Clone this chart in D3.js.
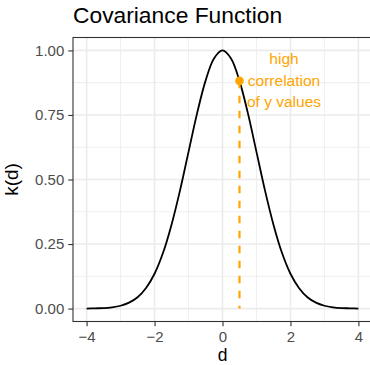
<!DOCTYPE html>
<html><head><meta charset="utf-8">
<script src="https://cdn.jsdelivr.net/npm/d3@7"></script>
<style>body{margin:0;background:#fff}svg{display:block;font-family:"Liberation Sans",Arial,Helvetica,sans-serif}</style>
</head><body><div id="chart"></div>
<script>
const dValues = [-4,-3.75,-3.5,-3.25,-3,-2.75,-2.5,-2.25,-2,-1.75,-1.5,-1.25,-1,-0.75,-0.5,-0.25,0,0.25,0.5,0.75,1,1.25,1.5,1.75,2,2.25,2.5,2.75,3,3.25,3.5,3.75,4];
const kValues = [0.000,0.001,0.002,0.005,0.011,0.023,0.044,0.080,0.135,0.216,0.325,0.458,0.607,0.755,0.882,0.969,1.000,0.969,0.882,0.755,0.607,0.458,0.325,0.216,0.135,0.080,0.044,0.023,0.011,0.005,0.002,0.001,0.000];
const xTicks = [-4,-2,0,2,4];
const xMinor = [-3,-1,1,3];
const yTicks = [0,0.25,0.5,0.75,1];
const yMinor = [0.125,0.375,0.625,0.875];
const markerD = [0.5];
const markerK = [0.882];
const annotationLines = ["high","correlation","of y values"];
const titleText = "Covariance Function";
const xTitle = "d", yTitle = "k(d)";

const W = 370, H = 365;
const P = {left:73, right:372, top:37.5, bottom:321.5};
const svg = d3.select("#chart").append("svg").attr("width",W).attr("height",H);
const x = d3.scaleLinear().domain([-4.4,4.4]).range([P.left,P.right]);
const y = d3.scaleLinear().domain([-0.05,1.05]).range([P.bottom,P.top]);

// grid
const g = svg.append("g");
g.selectAll(".xmin").data(xMinor).join("line").attr("x1",d=>x(d)).attr("x2",d=>x(d)).attr("y1",P.top).attr("y2",P.bottom).attr("stroke","#EBEBEB").attr("stroke-width",0.8);
g.selectAll(".ymin").data(yMinor).join("line").attr("y1",d=>y(d)).attr("y2",d=>y(d)).attr("x1",P.left).attr("x2",P.right).attr("stroke","#EBEBEB").attr("stroke-width",0.8);
g.selectAll(".xmaj").data(xTicks).join("line").attr("x1",d=>x(d)).attr("x2",d=>x(d)).attr("y1",P.top).attr("y2",P.bottom).attr("stroke","#EBEBEB").attr("stroke-width",1.6);
g.selectAll(".ymaj").data(yTicks).join("line").attr("y1",d=>y(d)).attr("y2",d=>y(d)).attr("x1",P.left).attr("x2",P.right).attr("stroke","#EBEBEB").attr("stroke-width",1.6);

// curve
const pts = dValues.map((d,i)=>[d,kValues[i]]);
svg.append("path").datum(pts).attr("fill","none").attr("stroke","#000").attr("stroke-width",1.8)
  .attr("d", d3.line().x(d=>x(d[0])).y(d=>y(d[1])).curve(d3.curveCatmullRom.alpha(0.5)));

// dashed line and marker
svg.selectAll(".dash").data(markerD).join("line").attr("x1",d=>x(d)).attr("x2",d=>x(d))
  .attr("y1",(d,i)=>y(markerK[i])).attr("y2",y(0)).attr("stroke","#FFA500").attr("stroke-width",2.2).attr("stroke-dasharray","7.5,7.5");
svg.selectAll(".pt").data(markerD).join("circle").attr("cx",d=>x(d)).attr("cy",(d,i)=>y(markerK[i])).attr("r",4.3).attr("fill","#FFA500");

// annotation
const ann = svg.append("text").attr("fill","#FFA500").attr("font-size",15.5).attr("text-anchor","middle");
annotationLines.forEach((t,i)=>ann.append("tspan").attr("x",284).attr("y",64+i*21.5).text(t));

// panel border
svg.append("rect").attr("x",P.left).attr("y",P.top).attr("width",P.right-P.left).attr("height",P.bottom-P.top).attr("fill","none").attr("stroke","#333").attr("stroke-width",1.1);

// axes
const fmtX = d=> d<0 ? "\u2212"+Math.abs(d) : String(d);
const xa = svg.append("g").attr("transform",`translate(0,${P.bottom})`)
  .call(d3.axisBottom(x).tickValues(xTicks).tickFormat(fmtX).tickSize(4.7).tickPadding(3));
const ya = svg.append("g").attr("transform",`translate(${P.left},0)`)
  .call(d3.axisLeft(y).tickValues(yTicks).tickFormat(d3.format(".2f")).tickSize(4.7).tickPadding(4));
[xa,ya].forEach(a=>{
  a.select(".domain").remove();
  a.selectAll(".tick line").attr("stroke","#333").attr("stroke-width",1.1);
  a.selectAll(".tick text").attr("fill","#4D4D4D").attr("font-size",15).attr("font-family",'"Liberation Sans",Arial,sans-serif');
});
xa.selectAll(".tick text").attr("dy",null).attr("y",20);

// titles
svg.append("text").attr("x",73).attr("y",23).attr("font-size",22.8).attr("fill","#000").text(titleText);
svg.append("text").attr("x",(P.left+P.right)/2).attr("y",361).attr("text-anchor","middle").attr("font-size",17.5).text(xTitle);
svg.append("text").attr("transform",`translate(18,${(P.top+P.bottom)/2}) rotate(-90)`).attr("text-anchor","middle").attr("font-size",19).text(yTitle);
</script></body></html>
